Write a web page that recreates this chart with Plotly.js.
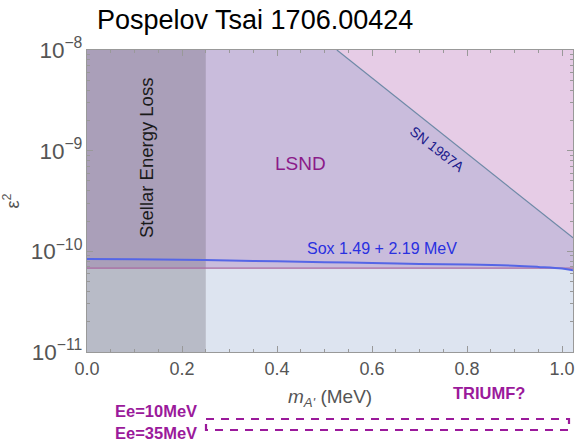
<!DOCTYPE html>
<html>
<head>
<meta charset="utf-8">
<script src="https://cdn.plot.ly/plotly-3.0.1.min.js"></script>
<style>html,body{margin:0;padding:0;background:#fff;}#chart{width:579px;height:442px;}</style>
</head>
<body>
<div id="chart"></div>
<script>
// ---- data ----
const xMin = 0, xMax = 1.023;            // m_A' (MeV) axis range
const yMin = 1e-11, yMax = 1e-8;         // epsilon^2 range
const stellarMass = 0.25;                // Stellar energy loss bound (MeV)
const lsndEps2 = 6.8e-11;                // LSND lower edge
const snMass = [0.526, 1.023];           // SN 1987A boundary
const snEps2 = [1e-8, 1.36e-10];
const soxMass = [0, 0.1, 0.2, 0.3, 0.4, 0.5, 0.6, 0.7, 0.8, 0.9, 0.95, 1.0, 1.023];
const soxEps2 = [8.4e-11, 8.35e-11, 8.25e-11, 8.1e-11, 7.95e-11, 7.8e-11, 7.65e-11, 7.5e-11, 7.4e-11, 7.2e-11, 7.0e-11, 6.75e-11, 6.5e-11];
const xTickVals = [0, 0.2, 0.4, 0.6, 0.8, 1.0];
const xTickText = ['0.0', '0.2', '0.4', '0.6', '0.8', '1.0'];

const FONT = 'Liberation Sans, Arial, Helvetica, sans-serif';
const purple = '#9b1a9b';
const W = 579, H = 442, ML = 87, MR = 6, MT = 50, MB = 90;
const PW = W - ML - MR, PH = H - MT - MB;
const px = v => (v - ML) / PW;           // pixel -> paper x
const py = v => (H - MB - v) / PH;       // pixel -> paper y

const traces = [
  { // blue region below LSND
    x: [xMin, xMax, xMax, xMin], y: [yMin, yMin, lsndEps2, lsndEps2],
    fill: 'toself', fillcolor: '#dde4f0', mode: 'lines', line: {width: 0}, hoverinfo: 'skip'
  },
  { // LSND region
    x: [xMin, xMax, xMax, snMass[0], xMin], y: [lsndEps2, lsndEps2, snEps2[1], snEps2[0], yMax],
    fill: 'toself', fillcolor: '#c9bcdc', mode: 'lines', line: {width: 0}, hoverinfo: 'skip'
  },
  { // SN region
    x: [snMass[0], xMax, xMax], y: [snEps2[0], yMax, snEps2[1]],
    fill: 'toself', fillcolor: '#e6cce6', mode: 'lines', line: {width: 0}, hoverinfo: 'skip'
  },
  { // stellar overlay
    x: [xMin, stellarMass, stellarMass, xMin], y: [yMin, yMin, yMax, yMax],
    fill: 'toself', fillcolor: 'rgba(98,92,105,0.3)', mode: 'lines', line: {width: 0}, hoverinfo: 'skip'
  },
  { // LSND edge line
    x: [xMin, xMax], y: [lsndEps2, lsndEps2], mode: 'lines',
    line: {color: '#a86aa0', width: 1.2}, hoverinfo: 'skip'
  },
  { // SN line
    x: snMass, y: snEps2, mode: 'lines', line: {color: '#6d88a6', width: 1.2}, hoverinfo: 'skip'
  },
  { // Sox
    x: soxMass, y: soxEps2, mode: 'lines', line: {color: '#5566e6', width: 2, shape: 'spline'}, hoverinfo: 'skip'
  }
];

const ann = (x, y, text, size, color, extra) => Object.assign({
  xref: 'paper', yref: 'paper', x: px(x), y: py(y), text: text, showarrow: false,
  xanchor: 'center', yanchor: 'middle', font: {family: FONT, size: size, color: color}
}, extra || {});

const layout = {
  width: W, height: H,
  margin: {l: ML, r: MR, t: MT, b: MB},
  paper_bgcolor: '#ffffff', plot_bgcolor: '#ffffff',
  showlegend: false,
  font: {family: FONT, color: '#555555', size: 18},
  title: {
    text: 'Pospelov Tsai 1706.00424',
    font: {family: FONT, size: 27, color: '#000000'},
    xref: 'container', x: 97/W, xanchor: 'left',
    yref: 'container', y: 1 - 20/H, yanchor: 'middle'
  },
  xaxis: {
    range: [xMin, xMax], tickvals: xTickVals, ticktext: xTickText,
    ticks: 'inside', ticklen: 6, tickcolor: '#999999', mirror: 'ticks',
    showline: true, linecolor: '#999999', linewidth: 1, showgrid: false, zeroline: false,
    tickfont: {family: FONT, size: 18, color: '#555555'},
    minor: {dtick: 0.05, tick0: 0, ticklen: 3, tickcolor: '#999999', ticks: 'inside', showgrid: false},
    title: {text: '<i>m</i><sub><i>A\'</i></sub> (MeV)', font: {family: FONT, size: 19, color: '#555555'}, standoff: 12}
  },
  yaxis: {
    type: 'log', range: [-11, -8], dtick: 1, exponentformat: 'power',
    ticks: 'inside', ticklen: 6, tickcolor: '#999999', mirror: 'ticks',
    showline: true, linecolor: '#999999', linewidth: 1, showgrid: false, zeroline: false,
    tickfont: {family: FONT, size: 18, color: '#555555'},
    minor: {dtick: 'D1', ticklen: 3, tickcolor: '#999999', ticks: 'inside', showgrid: false},
    title: {text: 'ε<sup>2</sup>', font: {family: FONT, size: 18, color: '#555555'}, standoff: 8}
  },
  annotations: [
    ann(146, 158, 'Stellar Energy Loss', 18.5, '#1a1a1a', {textangle: -90}),
    ann(300, 163, 'LSND', 19, '#8b1a89'),
    ann(437, 149, 'SN 1987A', 14, '#1a1a8c', {textangle: 38}),
    ann(382, 248, 'Sox 1.49 + 2.19 MeV', 16, '#2a30e0'),
    ann(489, 393, '<b>TRIUMF?</b>', 16.5, purple),
    ann(199, 411, '<b>Ee=10MeV</b>', 16.5, purple, {xanchor: 'right'}),
    ann(199, 433, '<b>Ee=35MeV</b>', 16.5, purple, {xanchor: 'right'})
  ],
  shapes: [
    {type: 'rect', xref: 'paper', yref: 'paper',
     x0: px(206), x1: px(569), y0: py(419), y1: py(430),
     line: {color: purple, width: 2.2, dash: '8px,7px'}}
  ]
};

Plotly.newPlot('chart', traces, layout, {displayModeBar: false, staticPlot: true});
</script>
</body>
</html>
